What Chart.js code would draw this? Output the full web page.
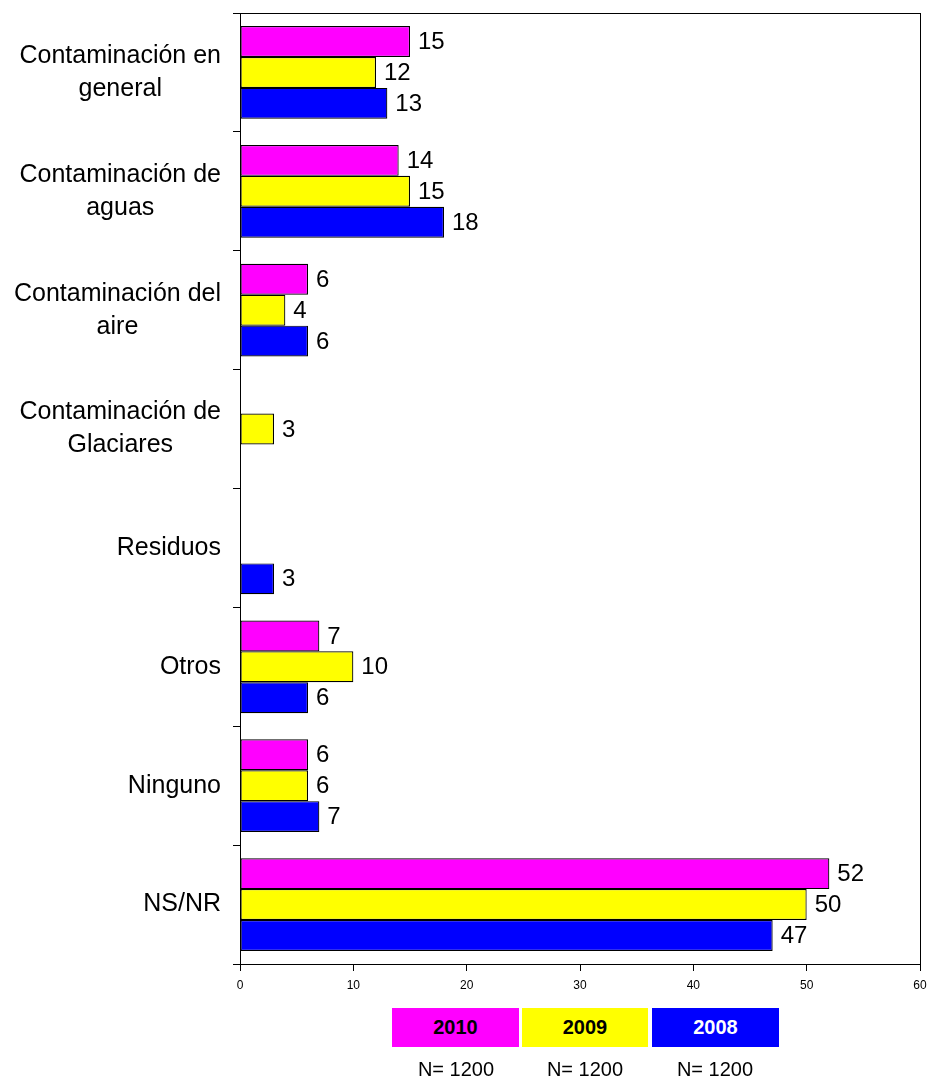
<!DOCTYPE html>
<html>
<head>
<meta charset="utf-8">
<script src="https://cdn.jsdelivr.net/npm/chart.js@4/dist/chart.umd.min.js"></script>
<style>
  body { margin: 0; background: #fff; font-family: "Liberation Sans", Arial, sans-serif; }
  #wrap { position: relative; width: 935px; height: 1078px; }
  .box { position: absolute; top: 1008px; height: 39px; font-weight: bold; font-size: 20px;
         text-align: center; line-height: 39px; }
  .n { position: absolute; top: 1058px; width: 128px; font-size: 20px; text-align: center; }
</style>
</head>
<body>
<div id="wrap">
  <canvas id="chart" width="935" height="1078"></canvas>
  <div class="box" style="left:392px;width:127px;background:#ff00ff;color:#000">2010</div>
  <div class="box" style="left:522px;width:126px;background:#ffff00;color:#000">2009</div>
  <div class="box" style="left:652px;width:127px;background:#0000ff;color:#fff">2008</div>
  <div class="n" style="left:392px">N= 1200</div>
  <div class="n" style="left:521px">N= 1200</div>
  <div class="n" style="left:651px">N= 1200</div>
</div>
<script>
// categories (multi-line labels)
var categories = [
  ["Contaminación en", "general"],
  ["Contaminación de", "aguas"],
  ["Contaminación del", "aire"],
  ["Contaminación de", "Glaciares"],
  ["Residuos"],
  ["Otros"],
  ["Ninguno"],
  ["NS/NR"]
];
var series2010 = [15, 14, 6, null, null, 7, 6, 52];
var series2009 = [12, 15, 4, 3, null, 10, 6, 50];
var series2008 = [13, 18, 6, null, 3, 6, 7, 47];
var xTicks = [0, 10, 20, 30, 40, 50, 60];

var FONT = '"Liberation Sans", Arial, sans-serif';

// frame around plot area
var framePlugin = {
  id: 'frame',
  afterDraw: function(chart) {
    var a = chart.chartArea, ctx = chart.ctx;
    ctx.save();
    ctx.strokeStyle = '#000';
    ctx.lineWidth = 1;
    ctx.strokeRect(a.left + 0.5, a.top + 0.5, a.right - a.left, a.bottom - a.top);
    ctx.restore();
  }
};

// value labels at bar ends
var valuePlugin = {
  id: 'values',
  afterDatasetsDraw: function(chart) {
    var ctx = chart.ctx;
    ctx.save();
    ctx.font = '24px ' + FONT;
    ctx.fillStyle = '#000';
    ctx.textAlign = 'left';
    ctx.textBaseline = 'middle';
    chart.data.datasets.forEach(function(ds, i) {
      var meta = chart.getDatasetMeta(i);
      meta.data.forEach(function(bar, j) {
        var v = ds.data[j];
        if (v === null || v === undefined) return;
        ctx.fillText(String(v), bar.x + 8, bar.y + 1);
      });
    });
    ctx.restore();
  }
};

// category labels, centred lines, block right-aligned
var catPlugin = {
  id: 'cats',
  afterDraw: function(chart) {
    var ctx = chart.ctx, y = chart.scales.y;
    ctx.save();
    ctx.font = '25px ' + FONT;
    ctx.fillStyle = '#000';
    ctx.textAlign = 'center';
    ctx.textBaseline = 'middle';
    var lh = 33;
    categories.forEach(function(lines, i) {
      var w = 0;
      lines.forEach(function(l) { w = Math.max(w, ctx.measureText(l).width); });
      var cx = 221 - w / 2;
      var cy = y.getPixelForValue(i);
      var y0 = cy - (lines.length - 1) * lh / 2;
      lines.forEach(function(l, k) { ctx.fillText(l, cx, y0 + k * lh); });
    });
    ctx.restore();
  }
};

new Chart(document.getElementById('chart').getContext('2d'), {
  type: 'bar',
  data: {
    labels: categories,
    datasets: [
      { label: '2010', data: series2010, backgroundColor: '#ff00ff' },
      { label: '2009', data: series2009, backgroundColor: '#ffff00' },
      { label: '2008', data: series2008, backgroundColor: '#0000ff' }
    ]
  },
  options: {
    indexAxis: 'y',
    responsive: false,
    animation: false,
    layout: { padding: { left: 0, right: 15, top: 13, bottom: 84 } },
    datasets: {
      bar: {
        borderColor: '#000',
        borderWidth: 1.2,
        borderSkipped: false,
        categoryPercentage: 0.78,
        barPercentage: 1,
        grouped: true
      }
    },
    plugins: { legend: { display: false }, tooltip: { enabled: false } },
    scales: {
      x: {
        min: 0, max: 60,
        afterBuildTicks: function(s) { s.ticks = xTicks.map(function(v) { return { value: v }; }); },
        afterFit: function(s) { s.height = 30; },
        ticks: { color: '#000', font: { size: 12, family: FONT }, padding: 7 },
        grid: { drawOnChartArea: false, color: '#000', tickLength: 7, tickColor: '#000' },
        border: { color: '#000', width: 1 }
      },
      y: {
        afterFit: function(s) { s.width = 240; },
        ticks: { display: false },
        grid: { offset: true, drawOnChartArea: false, color: '#000', tickLength: 7, tickColor: '#000' },
        border: { color: '#000', width: 1 }
      }
    }
  },
  plugins: [framePlugin, valuePlugin, catPlugin]
});
</script>
</body>
</html>
